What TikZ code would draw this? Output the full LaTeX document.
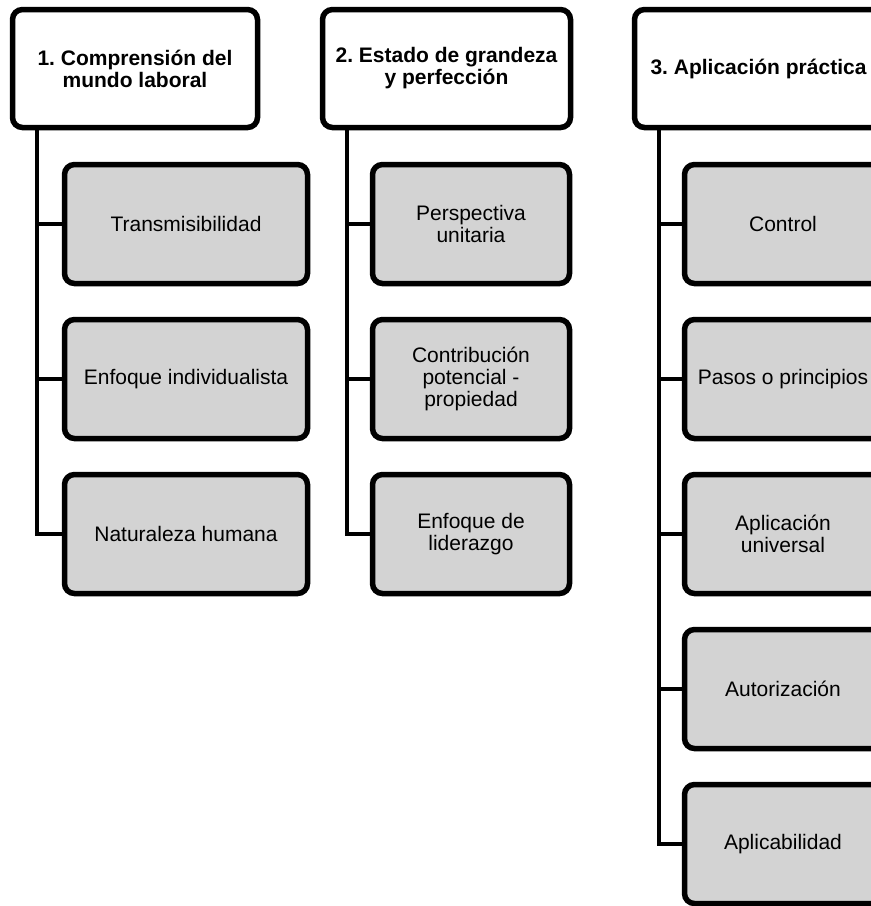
\documentclass[tikz,border=0pt]{standalone}
\usepackage{fontspec}
\setmainfont{Liberation Sans}
\definecolor{boxgray}{RGB}{211,211,211}
\frenchspacing
\begin{document}
\begin{tikzpicture}[x=1pt,y=-1pt,
  head/.style={draw, line width=5.5pt, rounded corners=10pt, fill=white,
    minimum width=245pt, minimum height=118pt, inner sep=0pt, align=center,
    font=\fontsize{21}{22}\selectfont\bfseries},
  item/.style={draw, line width=5.5pt, rounded corners=10pt, fill=boxgray,
    minimum height=119pt, inner sep=0pt, align=center,
    font=\fontsize{21}{22}\selectfont},
  wide/.style={item, minimum width=243pt},
  narrow/.style={item, minimum width=197pt},
  spine/.style={line width=4.5pt}]
\useasboundingbox (0,0) rectangle (871,906);
\fill[white] (0,0) rectangle (871,906);
\clip (0,0) rectangle (871,906);

% column headers
\node[head] (h1) at (135,68.5) {1. Comprensión del\\mundo laboral};
\node[head, minimum width=248pt] (h2) at (446.5,68.5) {2. Estado de grandeza\\y perfección};
\node[head, minimum width=248pt] (h3) at (758.5,68.5) {3. Aplicación práctica};

% first column
\node[wide] (c11) at (186,224) {Transmisibilidad};
\node[wide] (c12) at (186,379) {Enfoque individualista};
\node[wide] (c13) at (186,534) {Naturaleza humana};

% second column
\node[narrow] (c21) at (471,224) {Perspectiva\\unitaria};
\node[narrow] (c22) at (471,379) {Contribución\\potencial -\\propiedad};
\node[narrow] (c23) at (471,534) {Enfoque de\\liderazgo};

% third column
\node[narrow] (c31) at (783,224) {Control};
\node[narrow] (c32) at (783,379) {Pasos o principios};
\node[narrow] (c33) at (783,534) {Aplicación\\universal};
\node[narrow] (c34) at (783,689) {Autorización};
\node[narrow] (c35) at (783,844) {Aplicabilidad};

% spines and branches
\coordinate (s1) at ([xshift=27pt]h1.south west);
\coordinate (s2) at ([xshift=27pt]h2.south west);
\coordinate (s3) at ([xshift=27pt]h3.south west);

\draw[spine] (s1) |- (c13.west);
\foreach \n in {c11,c12} \draw[spine] (\n.west) -- (\n.west -| s1);

\draw[spine] (s2) |- (c23.west);
\foreach \n in {c21,c22} \draw[spine] (\n.west) -- (\n.west -| s2);

\draw[spine] (s3) |- (c35.west);
\foreach \n in {c31,c32,c33,c34} \draw[spine] (\n.west) -- (\n.west -| s3);
\end{tikzpicture}
\end{document}
